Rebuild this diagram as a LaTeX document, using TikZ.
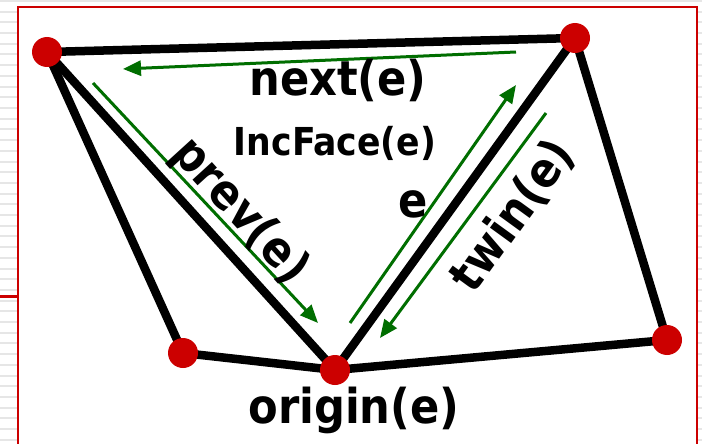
\documentclass[tikz,border=0pt]{standalone}
\usepackage{fontspec}
\setmainfont{DejaVu Sans Condensed}
\usetikzlibrary{arrows.meta}
\definecolor{vred}{RGB}{204,0,0}
\definecolor{hgreen}{RGB}{0,110,0}
\definecolor{stripe}{RGB}{230,230,230}
\pgfdeclarelayer{back}
\pgfdeclarelayer{edges}
\pgfsetlayers{back,edges,main}

\begin{document}
\begin{tikzpicture}[x=1pt, y=-1pt,
  vertex/.style={circle, fill=vred, inner sep=0pt, minimum size=30pt},
  edge/.style={line width=8.5pt, black, line cap=round},
  harrow/.style={-{Triangle[length=18pt,width=15pt]}, line width=3pt, hgreen},
  biglbl/.style={font=\fontsize{48}{48}\selectfont\bfseries, inner sep=0pt},
  smalllbl/.style={font=\fontsize{38.5}{38.5}\selectfont\bfseries, inner sep=0pt}
]
\useasboundingbox (0,0) rectangle (702,444);

% slide background
\begin{pgfonlayer}{back}
\foreach \y in {1,11.7,...,444} \draw[stripe, line width=2pt] (0,\y) -- (702,\y);
\fill[white] (17.5,7.5) rectangle (697,450);
\draw[vred, line width=2pt] (17.5,450) -- (17.5,7.5) -- (697,7.5) -- (697,450);
\draw[vred, line width=3pt] (0,296) -- (17.5,296);
\end{pgfonlayer}

% vertices
\node[vertex] (v1) at (47,52) {};
\node[vertex] (v2) at (575,38) {};
\node[vertex] (v3) at (183,353) {};
\node[vertex] (orig) at (335,370) {};
\node[vertex] (v5) at (667,340) {};

% edges
\begin{pgfonlayer}{edges}
\draw[edge] (v1.center) -- (v2.center);
\draw[edge] (v1.center) -- (v3.center);
\draw[edge] (v1.center) -- (orig.center);
\draw[edge] (orig.center) -- (v2.center);
\draw[edge] (v2.center) -- (v5.center);
\draw[edge] (v3.center) -- (orig.center);
\draw[edge] (orig.center) -- (v5.center);
\end{pgfonlayer}

% half-edge arrows
\coordinate (next0) at (516,52);
\coordinate (next1) at (123,69);
\coordinate (prev0) at (93,83);
\coordinate (prev1) at (318,323);
\coordinate (e0) at (350,323);
\coordinate (e1) at (516,85);
\coordinate (twin0) at (546,113);
\coordinate (twin1) at (380,338);
\draw[harrow] (next0) -- (next1);
\draw[harrow] (prev0) -- (prev1);
\draw[harrow] (e0) -- (e1);
\draw[harrow] (twin0) -- (twin1);

% labels
\node[biglbl] (lnext) at (338,80) {next(e)};
\node[smalllbl] (lface) at (335,143) {IncFace(e)};
\node[biglbl, rotate=-47.7] (lprev) at (240,212) {prev(e)};
\node[biglbl] (le) at (413,204) {e};
\node[biglbl, rotate=54] (ltwin) at (513,216) {twin(e)};
\node[biglbl] (lorig) at (354,410) {origin(e)};
\end{tikzpicture}
\end{document}
